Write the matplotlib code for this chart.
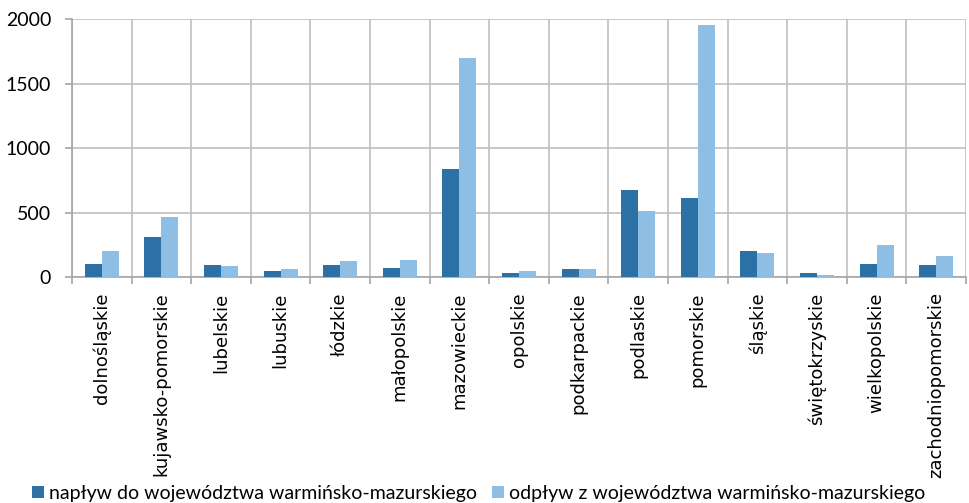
import matplotlib
matplotlib.use("Agg")
import matplotlib.pyplot as plt
import numpy as np
from matplotlib.ticker import FixedLocator, NullFormatter

regions = ["dolnośląskie", "kujawsko-pomorskie", "lubelskie", "lubuskie", "łódzkie",
           "małopolskie", "mazowieckie", "opolskie", "podkarpackie", "podlaskie",
           "pomorskie", "śląskie", "świętokrzyskie", "wielkopolskie", "zachodniopomorskie"]
naplyw = [100, 308, 93, 44, 93, 67, 837, 31, 62, 672, 612, 202, 31, 101, 93]
odplyw = [199, 465, 88, 64, 127, 132, 1695, 47, 59, 514, 1951, 183, 16, 250, 163]
label_in = "napływ do województwa warmińsko-mazurskiego"
label_out = "odpływ z województwa warmińsko-mazurskiego"

DARK = "#2C71A6"; LIGHT = "#8EBEE3"; GRID = "#BFBFBF"; AX = "#A6A6A6"

plt.rcParams.update({"font.family": ["Lato", "DejaVu Sans"], "font.size": 14})

fig = plt.figure(figsize=(9.69, 5.03), dpi=100)
ax = fig.add_axes([0.0743, 0.4493, 0.9227, 0.5129])

x = np.arange(len(regions))
w = 0.285
ax.bar(x - w / 2, naplyw, w, color=DARK, zorder=3, label=label_in)
ax.bar(x + w / 2, odplyw, w, color=LIGHT, zorder=3, label=label_out)

ax.set_xlim(-0.5, len(regions) - 0.5)
ax.set_ylim(0, 2000)
ax.set_yticks([0, 500, 1000, 1500, 2000])

ax.xaxis.set_major_locator(FixedLocator(np.arange(-0.5, len(regions), 1.0)))
ax.xaxis.set_major_formatter(NullFormatter())
ax.xaxis.set_minor_locator(FixedLocator(x))
ax.set_xticklabels(regions, minor=True, rotation=90, va="top", ha="center",
                   family=["DejaVu Sans"], fontsize=13)
ax.tick_params(axis="x", which="minor", length=0, pad=11, colors="black")
ax.tick_params(axis="x", which="major", length=5, color=AX, width=1.2)
ax.tick_params(axis="y", length=5, color=AX, width=1.2, labelsize=14, pad=10)

ax.grid(True, which="major", color=GRID, lw=1.2, zorder=0)
ax.set_axisbelow(True)
for s in ("top", "right"):
    ax.spines[s].set_visible(False)
for s in ("left", "bottom"):
    ax.spines[s].set_color(AX)
    ax.spines[s].set_linewidth(1.2)

fig.legend(loc="lower left", bbox_to_anchor=(0.032, 0.0), ncol=2, frameon=False,
           fontsize=14, handlelength=0.62, handleheight=0.62, handletextpad=0.25,
           columnspacing=0.77, borderaxespad=0, borderpad=0.05)

fig.savefig("out.png", dpi=100, facecolor="white")
